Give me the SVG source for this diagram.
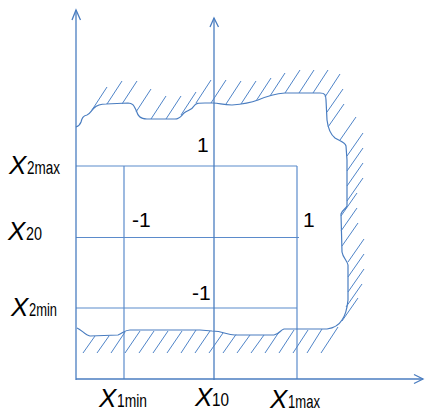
<svg xmlns="http://www.w3.org/2000/svg" width="425" height="414" viewBox="0 0 425 414">
<style>
.ax{stroke:#4A7DC0;stroke-width:1.3;fill:none}
.gr{stroke:#5B8BCB;stroke-width:1.2;fill:none}
.bd{stroke:#4A7DC0;stroke-width:1.2;fill:none;stroke-linejoin:round}
.ht{stroke:#4F84C8;stroke-width:1;fill:none}
.X{font-family:"Liberation Sans",Arial,sans-serif;font-style:italic;font-size:26px;fill:#000}
.s{font-family:"Liberation Sans",Arial,sans-serif;font-size:19px;fill:#000}
.n{font-family:"Liberation Sans",Arial,sans-serif;font-size:21px;fill:#000}
</style>
<rect width="425" height="414" fill="#fff"/>
<g id="grid">
<line class="gr" x1="76" y1="166" x2="297" y2="166"/>
<line class="gr" x1="76" y1="237.5" x2="299" y2="237.5"/>
<line class="gr" x1="76" y1="308" x2="297" y2="308"/>
<line class="gr" x1="124" y1="166" x2="124" y2="379"/>
<line class="gr" x1="297" y1="166" x2="297" y2="379"/>
</g>
<g id="axes">
<line class="ax" x1="76" y1="10" x2="76" y2="380"/>
<polyline class="ax" points="72,20 76,10 80.5,20"/>
<line class="ax" x1="214" y1="18" x2="214" y2="380"/>
<polyline class="ax" points="210,27 214,18 218.5,27"/>
<line class="ax" x1="76" y1="379" x2="423" y2="379"/>
<polyline class="ax" points="414,374.5 423,379 414,383.5"/>
</g>
<g id="boundary">
<path class="bd" d="M76,127 C79,126 80,125 81,122 C82,118 83,116 87,115 C90,114 91,111 94,108 C97,105 100,104 106,104 L128,103 C133,103 134,106 136,110 C138,116 140,119 147,119 L175,119 C180,119 181,116 184,113 C188,110 192,110 194,106 C196,103 198,103 205,103 L213,103 C220,103 222,105 232,105 C245,104 250,103 258,100 C265,97 272,94 285,93 L320,93 C325,93 326,95 326,100 L327,120 C328,128 330,134 335,138 C340,141 345,142 346,146 L347,160 L347,206 C346,209 342,210 341,214 L342,252 C343,258 347,260 348,265 L348,300 C347,310 345,316 342,320 C339,325 334,328 327,329 L284,329 C280,330 280,334 274,335 L235,335 C226,335 224,331 212,331 L200,330 L130,330 C125,330 123,333 118,335 L90,336 C85,335 82,330 77,328"/>
</g>
<g id="hatch-top">
<path class="ht" d="M92,110 l15,-23 M107,104 l15,-23 M122,104 l15,-23 M136,112 l15,-23 M151,119 l15,-23 M166,119 l15,-23 M181,115 l15,-23 M196,103 l15,-23 M211,103 l15,-23 M226,104 l15,-23 M241,104 l15,-23 M256,101 l15,-23 M270,96 l15,-23 M285,93 l15,-23 M299,93 l15,-23 M313,93 l15,-23 M325,97 l15,-23"/>
</g>
<g id="hatch-right">
<path class="ht" d="M327,112 l16,-23 M328,127 l16,-23 M340,140 l16,-23 M347,156 l16,-23 M347,171 l16,-23 M347,186 l16,-23 M347,201 l16,-23 M341,216 l16,-23 M341,231 l16,-23 M342,246 l16,-23 M348,262 l16,-23 M348,277 l16,-23 M348,292 l16,-23 M346,307 l16,-23 M342,321 l16,-23"/>
</g>
<g id="hatch-bottom">
<path class="ht" d="M83,353 L95,336 M97,353 L109,336 M111,353 L125,332 M125,353 L140,331 M139,353 L154,331 M153,353 L168,331 M167,353 L182,331 M181,353 L196,330 M195,353 L210,331 M209,353 L223,333 M223,353 L236,334.5 M237,353 L250,335 M251,353 L264,335 M265,353 L279,332 M279,353 L294,330 M293,353 L308,330 M307,353 L322,329 M321,353 L338,327"/>
</g>
<g id="labels">
<text class="X" x="9" y="174">X</text><text class="s" x="27" y="174" textLength="33" lengthAdjust="spacingAndGlyphs">2max</text>
<text class="X" x="8" y="240">X</text><text class="s" x="26" y="240" textLength="16" lengthAdjust="spacingAndGlyphs">20</text>
<text class="X" x="11" y="316">X</text><text class="s" x="29" y="316" textLength="28" lengthAdjust="spacingAndGlyphs">2min</text>
<text class="X" x="99" y="407">X</text><text class="s" x="117" y="407" textLength="30" lengthAdjust="spacingAndGlyphs">1min</text>
<text class="X" x="195" y="406">X</text><text class="s" x="212" y="406" textLength="17" lengthAdjust="spacingAndGlyphs">10</text>
<text class="X" x="270" y="408">X</text><text class="s" x="288" y="408" textLength="32" lengthAdjust="spacingAndGlyphs">1max</text>
<text class="n" x="197" y="152">1</text>
<text class="n" x="132" y="227">-1</text>
<text class="n" x="303" y="227">1</text>
<text class="n" x="192" y="300">-1</text>
</g>
</svg>
